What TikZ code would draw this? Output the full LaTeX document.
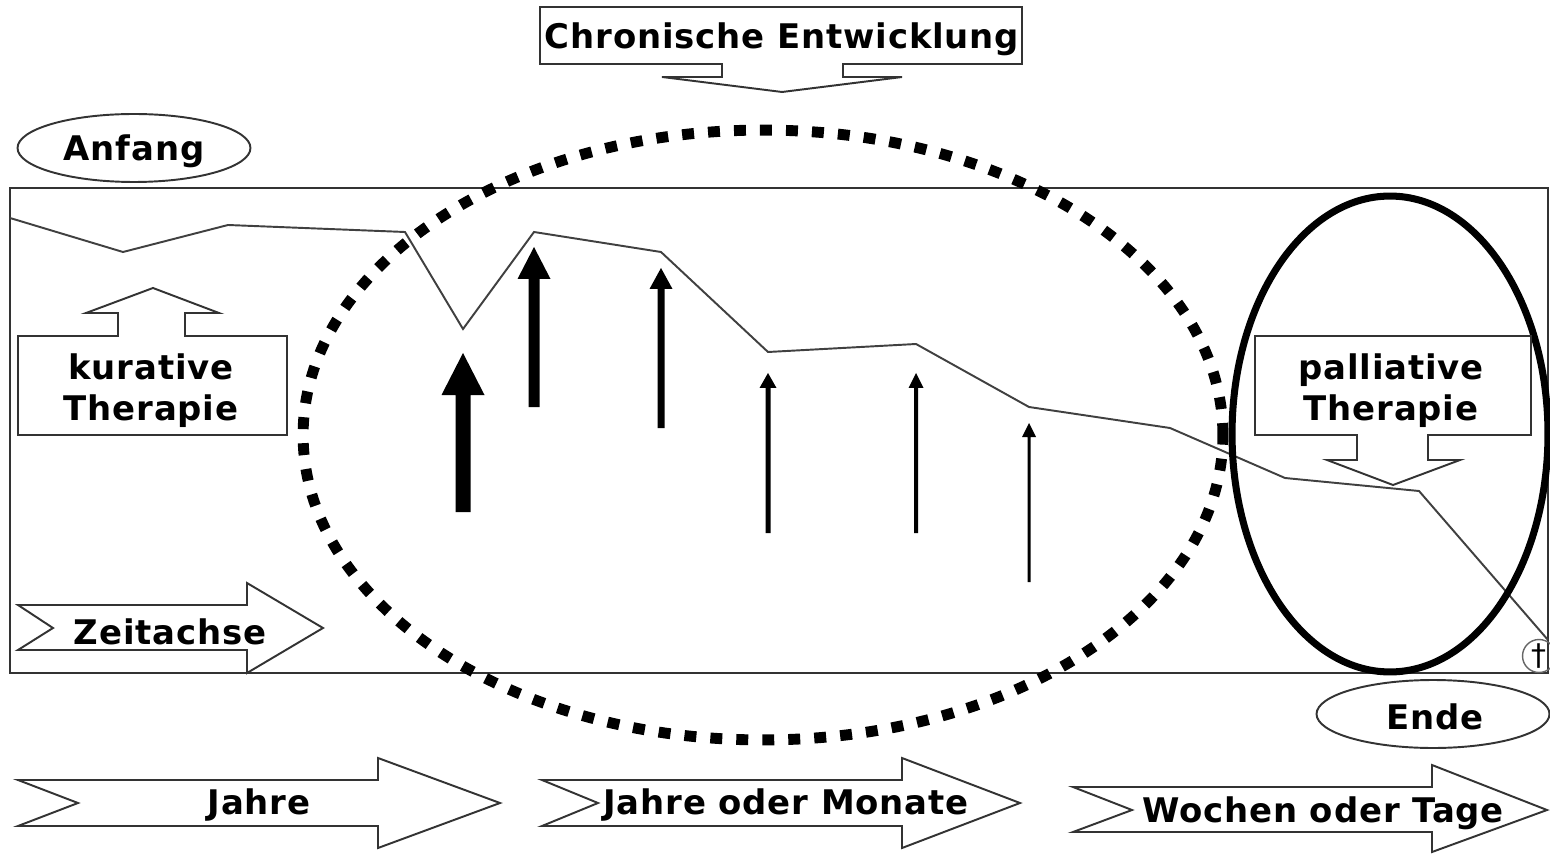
\documentclass[tikz,border=0pt]{standalone}
\usepackage{fontspec}
\setmainfont{DejaVu Sans}
\newfontfamily\lblfont{DejaVu Sans}[LetterSpace=2.5]
\usetikzlibrary{shapes.geometric}

\tikzset{
  outline/.style={draw=black!80, line width=1.1pt, line join=miter},
  blockshape/.style={outline, fill=white},
  lbl/.style={font=\lblfont\bfseries\fontsize{19.3}{23.5}\selectfont, text=black, inner sep=0pt, align=center},
  oval/.style={draw=black!80, line width=1.1pt, ellipse, fill=white, inner sep=0pt,
    minimum width=4.66cm, minimum height=1.36cm},
  curve/.style={draw=black!75, line width=1.1pt, line join=miter},
}

% upward block arrow: x, bottom y, tip y, shaft width, head width, head height
\newcommand\liftarrow[6]{%
  \fill[black] (#1-#4/2,#2) -- (#1-#4/2,#3+#6) -- (#1-#5/2,#3+#6) -- (#1,#3)
    -- (#1+#5/2,#3+#6) -- (#1+#4/2,#3+#6) -- (#1+#4/2,#2) -- cycle;}

\begin{document}
\begin{tikzpicture}[x=0.02cm, y=-0.02cm]
\useasboundingbox (0,0) rectangle (1550,854);
\fill[white] (0,0) rectangle (1550,854);

% main frame
\draw[outline] (10,188) rectangle (1548,673);

% course of the illness
\coordinate (p1) at (10,218);
\coordinate (p2) at (123,252);
\coordinate (p3) at (228,225);
\coordinate (p4) at (405,232);
\coordinate (p5) at (463,329);
\coordinate (p6) at (534,232);
\coordinate (p7) at (661,252);
\coordinate (p8) at (768,352);
\coordinate (p9) at (916,344);
\coordinate (p10) at (1029,407);
\coordinate (p11) at (1170,428);
\coordinate (p12) at (1285,478);
\coordinate (p13) at (1419,491);
\coordinate (p14) at (1548,640);
\draw[curve] (p1) -- (p2) -- (p3) -- (p4) -- (p5) -- (p6) -- (p7) -- (p8)
  -- (p9) -- (p10) -- (p11) -- (p12) -- (p13) -- (p14);

% interventions, weakening over time
\liftarrow{463}{512}{353}{15}{43}{42}
\liftarrow{534}{407}{247}{11}{33}{32}
\liftarrow{661}{428}{268}{7}{23}{21}
\liftarrow{768}{533}{373}{5}{17}{15}
\liftarrow{916}{533}{373}{4}{15}{15}
\liftarrow{1029}{582}{423}{3}{14}{14}

% chronic phase
\draw[black, line width=6.2pt, dash pattern=on 6.8pt off 8pt]
  (763,435) ellipse [x radius=9.2cm, y radius=6.1cm];

% final phase
\draw[black, line width=4pt] (1390,434) ellipse [x radius=3.16cm, y radius=4.76cm];

% callouts
\draw[blockshape] (540,7) -- (1022,7) -- (1022,64) -- (843,64) -- (843,77)
  -- (902,77) -- (782,92) -- (662,77) -- (722,77) -- (722,64) -- (540,64) -- cycle;
\node[lbl] (chron) at (782,39) {Chronische Entwicklung};

\draw[blockshape] (18,336) -- (118,336) -- (118,313) -- (86,313) -- (153,288)
  -- (219,313) -- (185,313) -- (185,336) -- (287,336) -- (287,435) -- (18,435) -- cycle;
\node[lbl] (kur) at (151,391) {kurative\\Therapie};

\draw[blockshape] (1255,336) -- (1531,336) -- (1531,435) -- (1428,435) -- (1428,460)
  -- (1460,460) -- (1393,485) -- (1327,460) -- (1357,460) -- (1357,435)
  -- (1255,435) -- cycle;
\node[lbl] (pall) at (1391,391) {palliative\\Therapie};

% start and end
\node[oval] (start) at (134,148) {};
\node[lbl] (starttext) at (134,151) {Anfang};
\node[oval] (end) at (1433,714) {};
\node[lbl] (endtext) at (1435,717) {Ende};

% death marker
\node[circle, draw=black!60, line width=0.8pt, minimum size=0.66cm, inner sep=0pt,
  font=\fontsize{17}{17}\selectfont] (cross) at (1539,656) {†};

% time axis arrow inside the frame
\draw[blockshape] (18,605) -- (247,605) -- (247,583) -- (323,628) -- (247,673)
  -- (247,650) -- (18,650) -- (53,628) -- cycle;
\node[lbl] (axis) at (170,632) {Zeitachse};

% durations
\draw[blockshape] (18,780) -- (378,780) -- (378,758) -- (500,803) -- (378,848)
  -- (378,826) -- (18,826) -- (78,803) -- cycle;
\node[lbl] (years) at (259,805) {Jahre};

\draw[blockshape] (542,780) -- (902,780) -- (902,758) -- (1020,803) -- (902,848)
  -- (902,826) -- (542,826) -- (598,803) -- cycle;
\node[lbl] (yearsmonths) at (786,805) {Jahre oder Monate};

\draw[blockshape] (1073,787) -- (1432,787) -- (1432,765) -- (1547,810) -- (1432,852)
  -- (1432,832) -- (1073,832) -- (1132,810) -- cycle;
\node[lbl] (weeksdays) at (1323,813) {Wochen oder Tage};
\end{tikzpicture}
\end{document}
